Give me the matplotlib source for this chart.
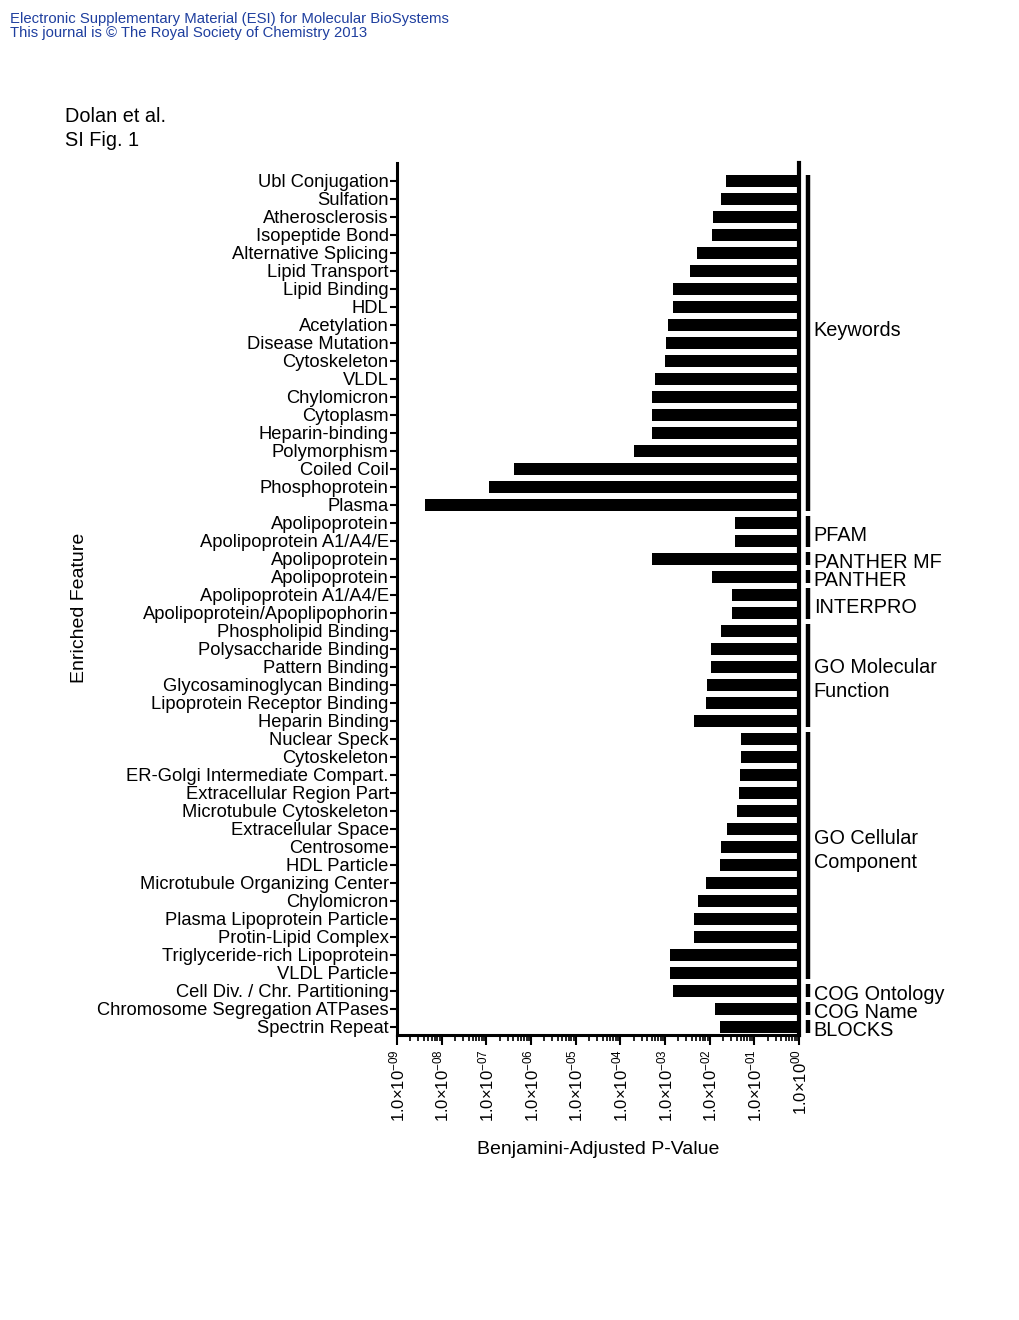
import numpy as np
import matplotlib.pyplot as plt
from matplotlib.ticker import LogLocator, FuncFormatter, NullFormatter
import matplotlib.transforms as mtransforms

plt.rcParams['font.family'] = ['Liberation Sans', 'DejaVu Sans']
plt.rcParams['mathtext.fontset'] = 'custom'
plt.rcParams['mathtext.rm'] = 'Liberation Sans'
plt.rcParams['mathtext.default'] = 'regular'

# Enriched features, top to bottom
features = [
    "Ubl Conjugation", "Sulfation", "Atherosclerosis", "Isopeptide Bond",
    "Alternative Splicing", "Lipid Transport", "Lipid Binding", "HDL",
    "Acetylation", "Disease Mutation", "Cytoskeleton", "VLDL", "Chylomicron",
    "Cytoplasm", "Heparin-binding", "Polymorphism", "Coiled Coil",
    "Phosphoprotein", "Plasma",
    "Apolipoprotein", "Apolipoprotein A1/A4/E",
    "Apolipoprotein",
    "Apolipoprotein",
    "Apolipoprotein A1/A4/E", "Apolipoprotein/Apoplipophorin",
    "Phospholipid Binding", "Polysaccharide Binding", "Pattern Binding",
    "Glycosaminoglycan Binding", "Lipoprotein Receptor Binding", "Heparin Binding",
    "Nuclear Speck", "Cytoskeleton", "ER-Golgi Intermediate Compart.",
    "Extracellular Region Part", "Microtubule Cytoskeleton", "Extracellular Space",
    "Centrosome", "HDL Particle", "Microtubule Organizing Center", "Chylomicron",
    "Plasma Lipoprotein Particle", "Protin-Lipid Complex",
    "Triglyceride-rich Lipoprotein", "VLDL Particle",
    "Cell Div. / Chr. Partitioning",
    "Chromosome Segregation ATPases",
    "Spectrin Repeat",
]

# log10 of Benjamini-adjusted p-values
log_p = [
    -1.63, -1.75, -1.93, -1.95, -2.29, -2.44, -2.83, -2.83, -2.94, -2.97,
    -3.01, -3.22, -3.28, -3.28, -3.28, -3.69, -6.38, -6.94, -8.38,
    -1.44, -1.44,
    -3.28,
    -1.95,
    -1.49, -1.49,
    -1.74, -1.96, -1.96, -2.05, -2.09, -2.34,
    -1.29, -1.29, -1.33, -1.35, -1.38, -1.62, -1.74, -1.76, -2.09, -2.27,
    -2.36, -2.36, -2.88, -2.88,
    -2.83,
    -1.88,
    -1.76,
]

# annotation groups: name, first row, last row, label row
groups = ["Keywords", "PFAM", "PANTHER MF", "PANTHER", "INTERPRO",
          "GO Molecular\nFunction", "GO Cellular\nComponent",
          "COG Ontology", "COG Name", "BLOCKS"]
group_first = [0, 19, 21, 22, 23, 25, 31, 45, 46, 47]
group_last = [18, 20, 21, 22, 24, 30, 44, 45, 46, 47]
group_label_row = [8.1, 19.5, 21, 22, 23.5, 27.5, 37.0, 45, 46, 47]

pvals = 10.0 ** np.array(log_p)
y = np.arange(len(features))

fig = plt.figure(figsize=(10.2, 13.2), dpi=100)
ax = fig.add_axes([397 / 1020, 1 - 1035 / 1320, 402 / 1020, 872 / 1320])

ax.barh(y, 1 - pvals, left=pvals, height=0.67, color='black', linewidth=0)
ax.set_xscale('log')
ax.set_xlim(1e-9, 1e0)
ax.set_ylim(len(features) - 0.55, -1)
ax.axvline(1.0, color='black', lw=3, clip_on=False)

ax.set_yticks(y)
ax.set_yticklabels(features, fontsize=13.2)
ax.xaxis.set_major_locator(LogLocator(base=10, numticks=20))
ax.xaxis.set_minor_locator(LogLocator(base=10, subs=np.arange(2, 10), numticks=20))
ax.xaxis.set_minor_formatter(NullFormatter())
ax.xaxis.set_major_formatter(FuncFormatter(
    lambda v, pos: "1.0×10$^{%s}$" % ("%03d" % int(round(np.log10(v))) if v < 1 else "00")))
plt.setp(ax.get_xticklabels(), rotation=90, fontsize=12)

ax.tick_params(axis='y', length=5, width=1.5, pad=1)
ax.tick_params(axis='x', which='major', length=7, width=1.5, pad=3)
ax.tick_params(axis='x', which='minor', length=4, width=1.2)

for s in ['top', 'right']:
    ax.spines[s].set_visible(False)
for s in ['left', 'bottom']:
    ax.spines[s].set_linewidth(2.2)

ax.set_xlabel("Benjamini-Adjusted P-Value", fontsize=14, labelpad=14)
ax.set_ylabel("Enriched Feature", fontsize=14)
ax.yaxis.set_label_coords(-0.768, 0.49)

trans = mtransforms.blended_transform_factory(ax.transAxes, ax.transData)
for name, a, b, lr in zip(groups, group_first, group_last, group_label_row):
    ax.plot([1.0225, 1.0225], [a - 0.36, b + 0.36], color='black', lw=3.2,
            transform=trans, clip_on=False, solid_capstyle='butt')
    ax.text(1.037, lr + 0.2, name, transform=trans, fontsize=14.3, va='center',
            ha='left', linespacing=1.33)

blue = '#1f3f9f'
fig.text(10 / 1020, 1 - 18.5 / 1320, "Electronic Supplementary Material (ESI) for Molecular BioSystems",
         fontsize=10.7, color=blue, va='center', ha='left')
fig.text(10 / 1020, 1 - 32.5 / 1320, "This journal is © The Royal Society of Chemistry 2013",
         fontsize=10.7, color=blue, va='center', ha='left')
fig.text(65 / 1020, 1 - 116 / 1320, "Dolan et al.", fontsize=14.3, va='center', ha='left')
fig.text(65 / 1020, 1 - 140 / 1320, "SI Fig. 1", fontsize=14.3, va='center', ha='left')

fig.savefig("out.png", dpi=100)
